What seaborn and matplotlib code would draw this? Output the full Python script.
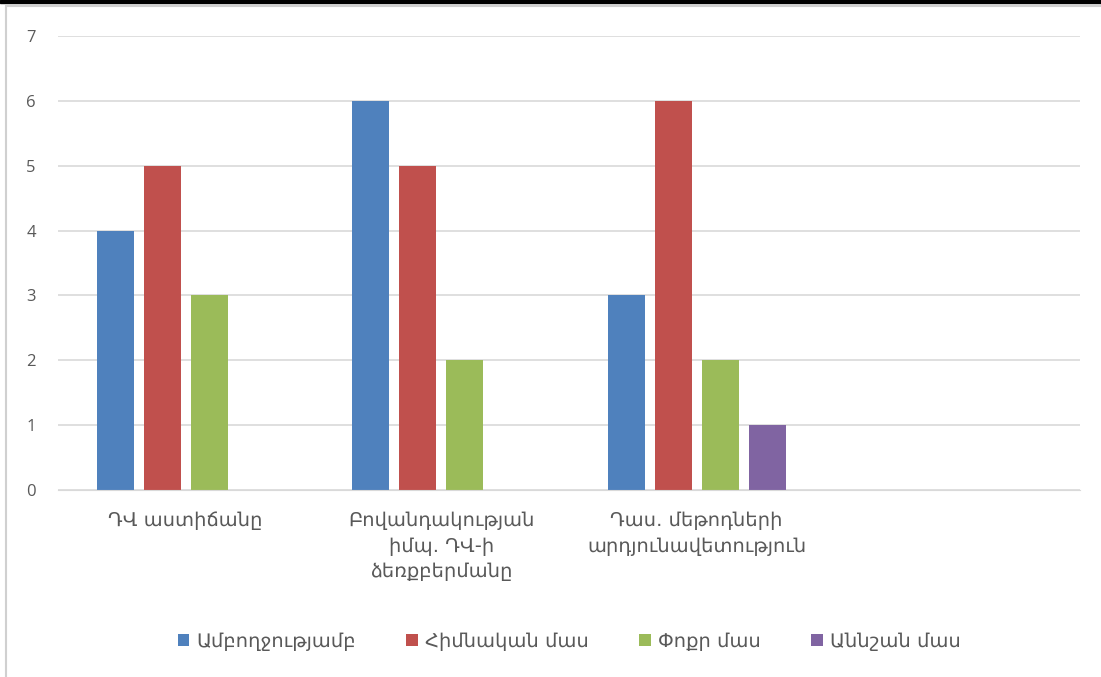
import matplotlib
matplotlib.use("Agg")
import matplotlib.pyplot as plt
import matplotlib.patches as mpatches
import seaborn as sns
import pandas as pd

categories = ["ԴՎ աստիճանը",
              "Բովանդակության\nիմպ. ԴՎ-ի\nձեռքբերմանը",
              "Դաս. մեթոդների\nարդյունավետություն",
              ""]
series = ["Ամբողջությամբ", "Հիմնական մաս", "Փոքր մաս", "Աննշան մաս"]
full = [4, 6, 3]
main = [5, 5, 6]
small = [3, 2, 2]
minor = [0, 0, 1]
colors = ["#4F81BD", "#C0504D", "#9BBB59", "#8064A2"]

rows = []
for name, vals in zip(series, [full, main, small, minor]):
    for cat, v in zip(categories[:3], vals):
        rows.append({"cat": cat, "series": name, "value": v})
df = pd.DataFrame(rows)

sns.set_style("white")
plt.rcParams["font.family"] = ["DejaVu Sans"]

fig = plt.figure(figsize=(11.01, 6.77), dpi=100)
ax = fig.add_axes([58 / 1101, 1 - 490 / 677, (1080 - 58) / 1101, (490 - 36) / 677])

sns.barplot(data=df, x="cat", y="value", hue="series", order=categories,
            hue_order=series, palette=colors, width=0.736, gap=0.21,
            saturation=1, linewidth=0, edgecolor="none", ax=ax, legend=True)

ax.set_xlim(-0.5, 3.5)
ax.set_ylim(0, 7)
ax.set_yticks(range(0, 8))
ax.yaxis.grid(True, color="#D9D9D9", linewidth=1.2)
ax.set_axisbelow(True)
for s in ["top", "right", "left"]:
    ax.spines[s].set_visible(False)
ax.spines["bottom"].set_color("#D9D9D9")
ax.set_xlabel("")
ax.set_ylabel("")
ax.tick_params(axis="both", length=0, colors="#595959")
ax.tick_params(axis="y", pad=16, labelsize=12)
ax.tick_params(axis="x", pad=15, labelsize=14)
for lab in ax.get_yticklabels():
    lab.set_family(["Open Sans", "DejaVu Sans"])
for lab in ax.get_xticklabels():
    lab.set_linespacing(1.45)

ax.legend(loc="center", bbox_to_anchor=(0.5, -0.333), ncol=4, frameon=False,
          fontsize=14, handlelength=0.6, handleheight=0.6, handletextpad=0.35,
          columnspacing=2.6, labelcolor="#595959")

# outer frame like the screenshot
fig.add_artist(mpatches.Rectangle((0, 1 - 3 / 677), 1, 3 / 677, transform=fig.transFigure,
                                  color="black", zorder=10))
fig.add_artist(mpatches.Rectangle((6 / 1101, -0.01), 1.1, 1 - 6 / 677 + 0.01,
                                  transform=fig.transFigure, fill=False,
                                  edgecolor="#D0D0D0", linewidth=1.5, zorder=10))

fig.savefig("out.png", dpi=100)
